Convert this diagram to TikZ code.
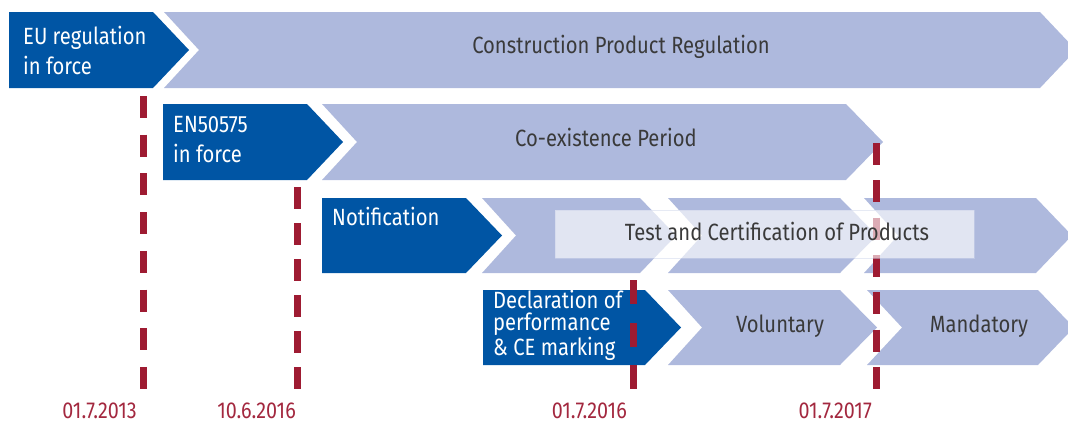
\documentclass[tikz,border=0pt]{standalone}
\usepackage{fontspec}
\setmainfont{Fira Sans}[FakeStretch=0.86]
\definecolor{dblue}{HTML}{0055A4}
\definecolor{lblue}{HTML}{AEB9DD}
\definecolor{dred}{HTML}{9E1B32}
\definecolor{datered}{HTML}{A3283F}
\definecolor{tgray}{HTML}{3A3A3A}
\tikzset{
  darkarrow/.style={fill=dblue},
  lightarrow/.style={fill=lblue},
  milestone/.style={draw=dred, line width=7pt},
  wtext/.style={text=white, font=\fontsize{23.5}{30}\selectfont, inner sep=0pt, align=left},
  gtext/.style={text=tgray, font=\fontsize{23.5}{28}\selectfont, inner sep=0pt},
  datetext/.style={text=datered, font=\fontsize{23}{28}\selectfont, inner sep=0pt, anchor=base east},
  testbox/.style={fill=white, fill opacity=0.64, draw=lblue!60!white, draw opacity=0.5, line width=1pt}
}
\begin{document}
\begin{tikzpicture}[x=1pt, y=-1pt]
\useasboundingbox (0,0) rectangle (1068,423);
\clip (0,0) rectangle (1068,423);
% row 1
\path[lightarrow] (164,12) -- (1040,12) -- (1076,50) -- (1040,88) -- (164,88) -- (199,50) -- cycle;
\path[darkarrow] (9,12) -- (153,12) -- (189,50) -- (153,88) -- (9,88) -- cycle;
% row 2
\path[lightarrow] (322,104) -- (846,104) -- (883,142) -- (846,180) -- (322,180) -- (357,142) -- cycle;
\path[darkarrow] (163,104) -- (307,104) -- (343,142) -- (307,180) -- (163,180) -- cycle;
% row 3
\path[lightarrow] (482,198) -- (640,198) -- (676,235.5) -- (640,273) -- (482,273) -- (516,235.5) -- cycle;
\path[lightarrow] (668,198) -- (840,198) -- (877,235.5) -- (840,273) -- (668,273) -- (702,235.5) -- cycle;
\path[lightarrow] (864,198) -- (1036,198) -- (1072,235.5) -- (1036,273) -- (864,273) -- (898,235.5) -- cycle;
\path[darkarrow] (322,198) -- (466,198) -- (502,235.5) -- (466,273) -- (322,273) -- cycle;
% row 4
\path[darkarrow] (483,290) -- (645,290) -- (681,327.5) -- (645,365) -- (483,365) -- cycle;
\path[lightarrow] (668,290) -- (840,290) -- (877,327.5) -- (840,365) -- (668,365) -- (702,327.5) -- cycle;
\path[lightarrow] (867,290) -- (1038,290) -- (1074,327.5) -- (1038,365) -- (867,365) -- (902,327.5) -- cycle;
% milestone lines
\coordinate (m1t) at (143,96);  \coordinate (m1b) at (143,389);
\coordinate (m2t) at (297,187); \coordinate (m2b) at (297,389);
\coordinate (m3t) at (633,280); \coordinate (m3b) at (633,389);
\coordinate (m4t) at (876,143); \coordinate (m4b) at (876,389);
\draw[milestone, dash pattern=on 22pt off 16.7pt] (m1t) -- (m1b);
\draw[milestone, dash pattern=on 21.5pt off 14.5pt] (m2t) -- (m2b);
\draw[milestone, dash pattern=on 24pt off 18.5pt] (m3t) -- (m3b);
\draw[milestone, dash pattern=on 22pt off 15.33pt] (m4t) -- (m4b);
% test box
\path[testbox] (555,210) rectangle (974,258);
% texts
\node[wtext, anchor=base west] (eu) at (23,74) {EU regulation\\in force};
\node[wtext, anchor=base west] (en) at (173,162) {EN50575\\in force};
\node[wtext, anchor=base west] (notif) at (332,225) {Notification};
\node[wtext, anchor=base west, font=\fontsize{23.5}{22.5}\selectfont] (decl) at (493,355) {Declaration of\\performance\\\& CE marking};
\node[gtext, anchor=base] (cpr) at (621,53) {Construction Product Regulation};
\node[gtext, anchor=base] (coex) at (606,146) {Co-existence Period};
\node[gtext, anchor=base] (test) at (777,240) {Test and Certification of Products};
\node[gtext, anchor=base] (vol) at (780,332) {Voluntary};
\node[gtext, anchor=base] (mand) at (979,332) {Mandatory};
\node[datetext] (d1) at (137,418.5) {01.7.2013};
\node[datetext] (d2) at (296,418.5) {10.6.2016};
\node[datetext] (d3) at (627,418.5) {01.7.2016};
\node[datetext] (d4) at (872,418.5) {01.7.2017};
\end{tikzpicture}
\end{document}
